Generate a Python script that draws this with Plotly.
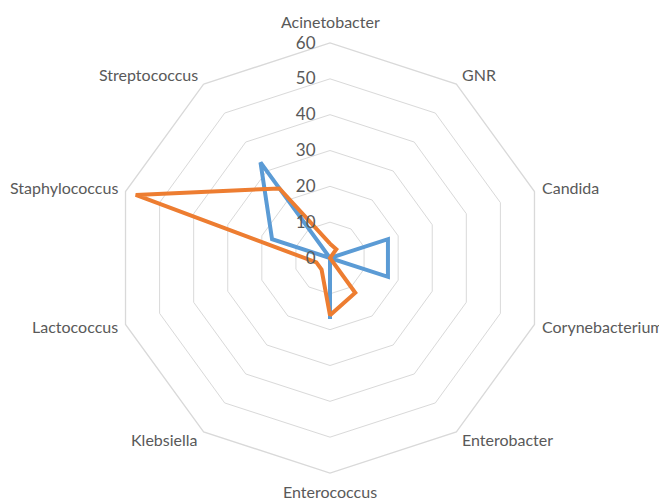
import math
import plotly.graph_objects as go

categories = ["Acinetobacter", "GNR", "Candida", "Corynebacterium", "Enterobacter",
              "Enterococcus", "Klebsiella", "Lactococcus", "Staphylococcus", "Streptococcus"]
blue_values = [0, 0, 17, 17, 0, 17, 0, 0, 17, 33]
orange_values = [4, 3, 0, 0, 12, 16, 4, 4, 57, 24]
radial_ticks = [0, 10, 20, 30, 40, 50, 60]

W, H = 667, 500
CX, CY, R = 322, 250, 215  # figure-pixel centre and radius of the polar area

def closed(v):
    return list(v) + [v[0]]

fig = go.Figure()
fig.add_trace(go.Scatterpolar(r=closed(blue_values), theta=closed(categories), mode="lines",
                              line=dict(color="#5B9BD5", width=4), name="Series1"))
fig.add_trace(go.Scatterpolar(r=closed(orange_values), theta=closed(categories), mode="lines",
                              line=dict(color="#ED7D31", width=4), name="Series2"))

# category labels placed just outside the outer polygon
annotations = []
n = len(categories)
for i, name in enumerate(categories):
    a = math.radians(360 * i / n)
    s, c = math.sin(a), math.cos(a)
    vx, vy = CX + R * s, CY - R * c
    if abs(s) < 0.1:
        xa = "center"
        ya = "middle"
        px, py = vx, (vy - 22 if c > 0 else vy + 18)
    else:
        xa = "left" if s > 0 else "right"
        ya = "middle"
        px, py = vx + 6 * s, vy - 10 * c - 1
    annotations.append(dict(text=name, x=px / W, y=1 - py / H, xref="paper", yref="paper",
                            xanchor=xa, yanchor=ya, showarrow=False,
                            font=dict(size=16, color="#595959")))

fig.update_layout(
    width=W, height=H,
    margin=dict(l=0, r=0, t=0, b=0),
    paper_bgcolor="white",
    showlegend=False,
    font=dict(family="Lato, Open Sans, sans-serif", color="#595959", size=16),
    annotations=annotations,
    polar=dict(
        domain=dict(x=[(CX - R) / W, (CX + R) / W], y=[1 - (CY + R) / H, 1 - (CY - R) / H]),
        bgcolor="white",
        gridshape="linear",
        radialaxis=dict(range=[0, 60], tickvals=radial_ticks, angle=90, tickangle=90,
                        side="counterclockwise",
                        showline=False, gridcolor="#d9d9d9", gridwidth=1.3,
                        ticks="outside", ticklen=8, tickcolor="rgba(0,0,0,0)",
                        tickfont=dict(size=17, color="#595959")),
        angularaxis=dict(direction="clockwise", rotation=90, showgrid=False,
                         showline=True, linecolor="#d9d9d9", linewidth=1.3,
                         showticklabels=False, ticks=""),
    ),
)
fig.write_html("out.html")
